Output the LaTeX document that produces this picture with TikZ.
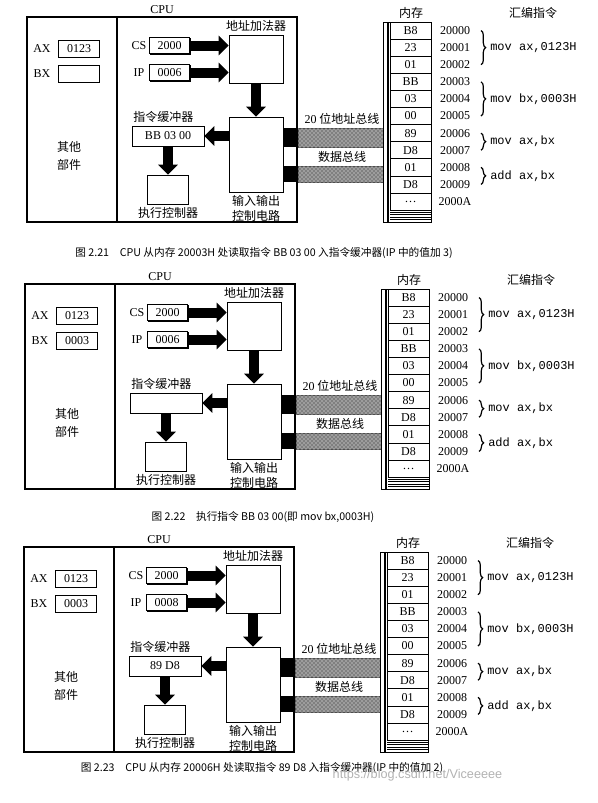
\documentclass[tikz,border=0pt]{standalone}
\usepackage{fontspec}
\setmainfont{Liberation Serif}
\setsansfont{Liberation Sans}
\setmonofont{Liberation Mono}
\newfontfamily\cjk{Noto Sans CJK SC}
\usetikzlibrary{arrows.meta,positioning,decorations.pathreplacing,patterns,shadows}
\tikzset{
  font=\fontsize{9}{11}\selectfont,
  zh/.style     ={font=\cjk\fontsize{9}{13.5}\selectfont, inner sep=1pt},
  shade/.style  ={fill=white, drop shadow={shadow xshift=0.7pt, shadow yshift=-0.7pt, opacity=1, fill=black}},
  regbox/.style ={draw, line width=0.6pt, shade, minimum width=30.5pt, minimum height=12.5pt, inner sep=0pt},
  addbox/.style ={draw, line width=0.6pt, shade, minimum width=40.5pt, minimum height=36pt},
  iobox/.style  ={draw, line width=0.6pt, shade, minimum width=40.5pt, minimum height=56.25pt},
  bufbox/.style ={draw, line width=0.6pt, shade, minimum width=54pt, minimum height=15pt, inner sep=0pt},
  execbox/.style={draw, line width=0.6pt, shade, minimum width=30.75pt, minimum height=21.75pt},
  memcell/.style={draw, line width=0.5pt, minimum width=30.75pt, minimum height=12.825pt, inner sep=0pt},
  cpuframe/.style={line width=0.8pt},
  fatarr/.style ={line width=7.5pt, -{Triangle[length=7.5pt,width=14.5pt]}},
  busbar/.style ={draw=black!70, line width=0.4pt, fill=black!50, postaction={pattern=crosshatch dots, pattern color=white}},
  brace/.style  ={decorate, decoration={brace, amplitude=3.5pt}, line width=0.9pt},
  asmtxt/.style ={font=\ttfamily\fontsize{9}{11}\selectfont, anchor=west, inner sep=0pt},
  capt/.style   ={font=\cjk\fontsize{8}{10}\selectfont},
}
% one CPU / memory panel: #1 suffix, #2 dx, #3 dy, #4 BX, #5 IP, #6 buffer
\newcommand{\cpupanel}[6]{%
  \begin{scope}[shift={(#2,#3)}]
    % CPU frame
    \node (cpu#1) at (162,10) {CPU};
    \draw[cpuframe] (27,17) rectangle (297,222);
    \draw[cpuframe] (117,17) -- (117,222);
    % registers
    \node (axl#1) at (42,49) {AX};
    \node[regbox] (ax#1) at (79,49) {0123};
    \node (bxl#1) at (42,74) {BX};
    \node[regbox] (bx#1) at (79,74) {#4};
    \node[zh, align=center] (misc#1) at (69,156) {其他\\部件};
    \node (csl#1) at (139,46) {CS};
    \node[regbox] (cs#1) at (169.5,45.5) {2000};
    \node (ipl#1) at (139,73) {IP};
    \node[regbox] (ip#1) at (169.5,72.5) {#5};
    % units
    \node[addbox] (add#1) at (256,59) {};
    \node[zh, above=1pt of add#1] (addl#1) {地址加法器};
    \node[iobox] (io#1) at (256,154.5) {};
    \node[zh, align=center, font=\cjk\fontsize{9}{11.25}\selectfont, below=1pt of io#1] (iol#1) {输入输出\\控制电路};
    \node[bufbox] (buf#1) at (168,136) {#6};
    \node[zh, above=1pt of buf#1, xshift=-3.5pt] (bufl#1) {指令缓冲器};
    \node[execbox] (exec#1) at (168,189.5) {};
    \node[zh, below=1pt of exec#1] (execl#1) {执行控制器};
    % buses
    \fill (283,128) rectangle (297,147);
    \fill (283,166) rectangle (297,182);
    \draw[busbar] (298,128) rectangle (383,147);
    \draw[busbar] (298,166) rectangle (383,182);
    \node[zh] (abus#1) at (342,119) {{\rmfamily 20} 位地址总线};
    \node[zh] (dbus#1) at (342,157) {数据总线};
    % memory
    \node[zh] (meml#1) at (411,13) {内存};
    \node[zh] (asml#1) at (533,13) {汇编指令};
    \draw[line width=0.5pt] (383,22) rectangle (431,222);
    \draw[line width=1.6pt] (388,22) -- (388,222);
    \foreach \v/\a [count=\i from 0] in {B8/20000,23/20001,01/20002,BB/20003,03/20004,00/20005,89/20006,D8/20007,01/20008,D8/20009,\dots/2000A} {
      \node[memcell] (m\i#1) at (410.5,{30.55+17.1*\i}) {\v};
      \node (a\i#1) at (455,{30.55+17.1*\i}) {\a};
    }
    \foreach \s in {0,...,4}
      \draw[line width=0.5pt] (390,{212+2.5*\s}) -- (431,{212+2.5*\s});
    \foreach \ra/\rb/\ins in {0/2/{mov ax,0123H},3/5/{mov bx,0003H},6/7/{mov ax,bx},8/9/{add ax,bx}} {
      \draw[brace] (481,{30.55+17.1*\ra}) -- (481,{30.55+17.1*\rb});
      \node[asmtxt] (asm\ra#1) at (490,{30.55+8.55*(\ra+\rb)}) {\ins};
    }
    % data paths
    \draw[fatarr] (cs#1.east) -- (cs#1.east -| add#1.west);
    \draw[fatarr] (ip#1.east) -- (ip#1.east -| add#1.west);
    \draw[fatarr] (add#1.south) -- (io#1.north);
    \draw[fatarr] (io#1.west |- buf#1.east) -- (buf#1.east);
    \draw[fatarr] (buf#1.south) -- (exec#1.north);
  \end{scope}}

\begin{document}
\begin{tikzpicture}[x=0.75pt, y=-0.75pt]
  \useasboundingbox (0,0) rectangle (597,803);

  \cpupanel{p1}{0}{0}{}{0006}{BB 03 00}
  \node[capt] (cap1) at (264,253) {图 2.21\quad CPU 从内存 20003H 处读取指令 BB 03 00 入指令缓冲器(IP 中的值加 3)};

  \cpupanel{p2}{-2}{267}{0003}{0006}{}
  \node[capt] (cap2) at (263,517) {图 2.22\quad 执行指令 BB 03 00(即 mov bx,0003H)};

  \cpupanel{p3}{-3}{530}{0003}{0008}{89 D8}
  \node[capt] (cap3) at (262,768) {图 2.23\quad CPU 从内存 20006H 处读取指令 89 D8 入指令缓冲器(IP 中的值加 2)};

  \node[font=\sffamily\fontsize{9.5}{11}\selectfont, text=black!30, anchor=west] (wm) at (328,775) {https://blog.csdn.net/Viceeeee};
\end{tikzpicture}
\end{document}
